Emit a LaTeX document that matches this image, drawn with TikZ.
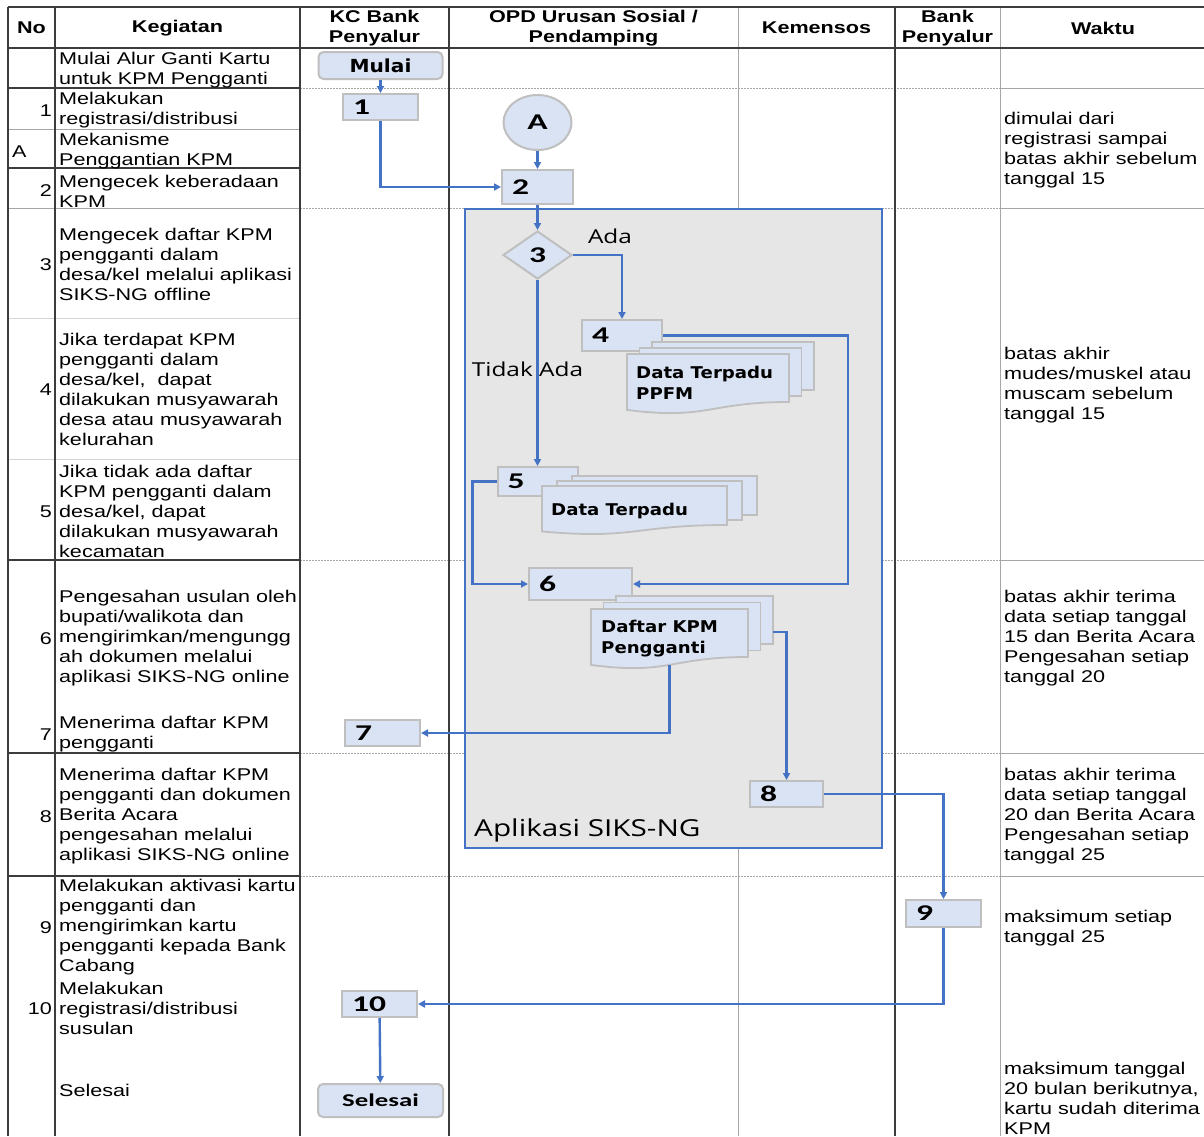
\documentclass[tikz,border=0pt]{standalone}
\usepackage{fontspec}
\setmainfont{Liberation Sans}[FakeStretch=1.27]
\newfontfamily\numfont{Carlito}[FakeStretch=1.49]
\newfontfamily\docfont{DejaVu Sans}[FakeStretch=1.12]
\newfontfamily\lblfont{Open Sans}[FakeStretch=1.27]
\usetikzlibrary{arrows.meta,shapes.geometric}

\definecolor{boxfill}{HTML}{DAE3F3}
\definecolor{boxline}{HTML}{BFBFBF}
\definecolor{flow}{HTML}{4472C4}
\definecolor{appfill}{HTML}{E6E6E6}
\definecolor{griddark}{HTML}{3C3C3C}
\definecolor{gridgray}{HTML}{A6A6A6}
\definecolor{gridlight}{HTML}{D4D4D4}

% stack of three pages; front page top-left (#1,#2), width #3, height #4, offset (#5,#6)
\newcommand\docstack[6]{%
  \foreach \k in {2,1} {
    \draw[page] ({#1+\k*#5},{#2-\k*#6}) rectangle ++(#3,#4);
  }
  \draw[page] (#1,#2) -- ({#1+#3},#2) -- ({#1+#3},{#2+#4})
    .. controls ({#1+0.5*#3},{#2+#4}) and ({#1+0.5*#3},{#2+1.381*#4}) ..
    (#1,{#2+1.165*#4}) -- cycle;
}

\begin{document}
\begin{tikzpicture}[x=1pt, y=-1pt,
  tx/.style={font=\fontsize{17}{20}\selectfont, align=left, inner sep=0pt, anchor=west, yshift=-1.5pt},
  hd/.style={font=\bfseries\fontsize{17}{20}\selectfont, align=center, inner sep=0pt, yshift=-1pt},
  nm/.style={font=\fontsize{17}{20}\selectfont, inner sep=0pt, anchor=east, yshift=-1.5pt},
  tdark/.style={draw=griddark, line width=1.4pt},
  tgray/.style={draw=gridgray, line width=1pt},
  tlight/.style={draw=gridlight, line width=1pt},
  tdot/.style={draw=gridgray, line width=0.8pt, dash pattern=on 1.5pt off 1.5pt},
  proc/.style 2 args={draw=boxline, fill=boxfill, line width=2pt, rectangle,
    inner xsep=10pt, inner ysep=0pt, text width=#1, minimum height=#2, align=left,
    font=\numfont\bfseries\fontsize{22.5}{24}\selectfont},
  term/.style 2 args={draw=boxline, fill=boxfill, line width=2pt, rounded corners=5pt,
    minimum width=#1, minimum height=#2, inner sep=0pt},
  page/.style={draw=boxline, fill=boxfill, line width=1.8pt},
  doctext/.style={font=\docfont\bfseries\fontsize{16.2}{21}\selectfont, align=left, inner sep=0pt, anchor=west},
  lbl/.style={font=\lblfont\fontsize{19.2}{22}\selectfont, inner sep=0pt},
  flowline/.style={draw=flow, line width=2.4pt, -{Triangle[length=7pt,width=7pt]}}
]
\fill[white] (0,0) rectangle (1204,1136);
\useasboundingbox (0,0) rectangle (1204,1136);

% ---------- table grid ----------
\foreach \y in {88,208,560,753,876} {
  \draw[tdot] (300,\y) -- (1000,\y);
  \draw[tgray] (1000,\y) -- (1204,\y);
}
\foreach \y in {129,208} \draw[tgray] (8,\y) -- (300,\y);
\foreach \y in {318,459} \draw[tlight] (8,\y) -- (300,\y);
\foreach \y in {88,168,560,753,876} \draw[tdark] (8,\y) -- (300,\y);
\draw[tgray] (738,7) -- (738,1136);
\draw[tgray] (1000,7) -- (1000,1136);
\foreach \x in {8,55,300,449,895} \draw[tdark] (\x,7) -- (\x,1136);
\draw[tdark] (8,7) -- (1204,7);
\draw[tdark] (8,48) -- (1204,48);

% ---------- header ----------
\node[hd] (hNo) at (31.5,27) {No};
\node[hd] (hKeg) at (177.5,27) {Kegiatan};
\node[hd] (hKC) at (374.5,27) {KC Bank\\Penyalur};
\node[hd] (hOPD) at (593.5,27) {OPD Urusan Sosial /\\Pendamping};
\node[hd] (hKem) at (816.5,27) {Kemensos};
\node[hd] (hBank) at (947.5,27) {Bank\\Penyalur};
\node[hd] (hWaktu) at (1103,27) {Waktu};

% ---------- No column ----------
\node[nm] (n1) at (52,109) {1};
\node[tx] (nA) at (12,150) {A};
\node[nm] (n2) at (52,189.5) {2};
\node[nm] (n3) at (52,263) {3};
\node[nm] (n4) at (52,388) {4};
\node[nm] (n5) at (52,510) {5};
\node[nm] (n6) at (52,637) {6};
\node[nm] (n7) at (52,733) {7};
\node[nm] (n8) at (52,815) {8};
\node[nm] (n9) at (52,926) {9};
\node[nm] (n10) at (52,1007) {10};

% ---------- Kegiatan column ----------
\node[tx] (k0) at (59,69) {Mulai Alur Ganti Kartu\\untuk KPM Pengganti};
\node[tx] (k1) at (59,109) {Melakukan\\registrasi/distribusi};
\node[tx] (kA) at (59,150) {Mekanisme\\Penggantian KPM};
\node[tx] (k2) at (59,189.5) {Mengecek keberadaan\\KPM};
\node[tx] (k3) at (59,263) {Mengecek daftar KPM\\pengganti dalam\\desa/kel melalui aplikasi\\SIKS-NG offline};
\node[tx] (k4) at (59,388) {Jika terdapat KPM\\pengganti dalam\\desa/kel,\ \ dapat\\dilakukan musyawarah\\desa atau musyawarah\\kelurahan};
\node[tx] (k5) at (59,510) {Jika tidak ada daftar\\KPM pengganti dalam\\desa/kel, dapat\\dilakukan musyawarah\\kecamatan};
\node[tx] (k6) at (59,637) {Pengesahan usulan oleh\\bupati/walikota dan\\mengirimkan/mengungg\\ah dokumen melalui\\aplikasi SIKS-NG online};
\node[tx] (k7) at (59,733) {Menerima daftar KPM\\pengganti};
\node[tx] (k8) at (59,815) {Menerima daftar KPM\\pengganti dan dokumen\\Berita Acara\\pengesahan melalui\\aplikasi SIKS-NG online};
\node[tx] (k9) at (59,926) {Melakukan aktivasi kartu\\pengganti dan\\mengirimkan kartu\\pengganti kepada Bank\\Cabang};
\node[tx] (k10) at (59,1007) {Melakukan\\registrasi/distribusi\\susulan};
\node[tx] (kS) at (59,1089) {Selesai};

% ---------- Waktu column ----------
\node[tx] (w1) at (1004,149) {dimulai dari\\registrasi sampai\\batas akhir sebelum\\tanggal 15};
\node[tx] (w2) at (1004,384) {batas akhir\\mudes/muskel atau\\muscam sebelum\\tanggal 15};
\node[tx] (w3) at (1004,637) {batas akhir terima\\data setiap tanggal\\15 dan Berita Acara\\Pengesahan setiap\\tanggal 20};
\node[tx] (w4) at (1004,815) {batas akhir terima\\data setiap tanggal\\20 dan Berita Acara\\Pengesahan setiap\\tanggal 25};
\node[tx] (w5) at (1004,927) {maksimum setiap\\tanggal 25};
\node[tx] (w6) at (1004,1097) {maksimum tanggal\\20 bulan berikutnya,\\kartu sudah diterima\\KPM};

% ---------- application frame ----------
\draw[draw=flow, fill=appfill, line width=1.5pt] (465,209) rectangle (882,848);
\node[lbl, anchor=west, font=\lblfont\fontsize{23.4}{26}\selectfont] (siks) at (474,830) {Aplikasi SIKS-NG};

% ---------- flow nodes ----------
\node[term={124pt}{27pt}, font=\docfont\bfseries\fontsize{18}{20}\selectfont] (mulai) at (380.5,65.5) {Mulai};
\node[proc={55pt}{26pt}] (b1) at (380.5,107) {1};
\node[ellipse, draw=boxline, fill=boxfill, line width=2pt, minimum width=68pt, minimum height=55pt,
  inner sep=0pt, font=\numfont\bfseries\fontsize{22.5}{24}\selectfont] (cA) at (537.5,122.5) {A};
\node[proc={51pt}{34pt}] (b2) at (537.5,187) {2};
\node[diamond, draw=boxline, fill=boxfill, line width=2pt, minimum width=69pt, minimum height=48pt,
  inner sep=0pt, font=\numfont\bfseries\fontsize{22.5}{24}\selectfont] (d3) at (537.5,255) {3};
\node[proc={60pt}{31pt}] (b4) at (622,335.5) {4};
\node[proc={60pt}{29pt}] (b5) at (537.5,481.5) {5};
\node[proc={83pt}{32pt}] (b6) at (580.5,584) {6};
\node[proc={55pt}{26pt}] (b7) at (382.5,733) {7};
\node[proc={53pt}{26pt}] (b8) at (786.5,794) {8};
\node[proc={55pt}{27pt}] (b9) at (943.5,913.5) {9};
\node[proc={55pt}{26pt}] (b10) at (379.5,1004) {10};
\node[term={125pt}{33pt}, font=\numfont\bfseries\fontsize{18}{20}\selectfont] (selesai) at (380.5,1100.5) {Selesai};

% ---------- document stacks ----------
\docstack{627}{354}{162}{48}{12.5}{6}
\node[doctext] (dppfm) at (636,382.5) {Data Terpadu\\PPFM};
\docstack{542}{486}{185}{39}{15}{5}
\node[doctext] (dterpadu) at (551,511) {Data Terpadu};
\docstack{591}{609}{157}{48}{12.5}{6.5}
\node[doctext] (dkpm) at (601,638.5) {Daftar KPM\\Pengganti};
\coordinate (kpmR) at (773,632);
\coordinate (kpmB) at (669.5,665);

% ---------- branch labels ----------
\node[lbl] (ada) at (610,236) {Ada};
\node[lbl] (tidak) at (527.5,369) {Tidak Ada};

% ---------- connectors ----------
\draw[flowline] (mulai) -- (b1);
\draw[flowline] (b1) |- (b2);
\draw[flowline] (cA) -- (b2);
\draw[flowline] (b2) -- (d3);
\draw[flowline] (d3) -| (b4);
\draw[flowline] (d3) -- (b5);
\draw[flowline] (b5.west) -- ++(-24,0) |- (b6);
\draw[flowline] (b4.east) -- ++(185,0) |- (b6);
\draw[flowline] (kpmR) -| (b8);
\draw[flowline] (kpmB) |- (b7);
\draw[flowline] (b8) -| (b9);
\draw[flowline] (b9) |- (b10);
\draw[flowline] (b10) -- (selesai);
\end{tikzpicture}
\end{document}
